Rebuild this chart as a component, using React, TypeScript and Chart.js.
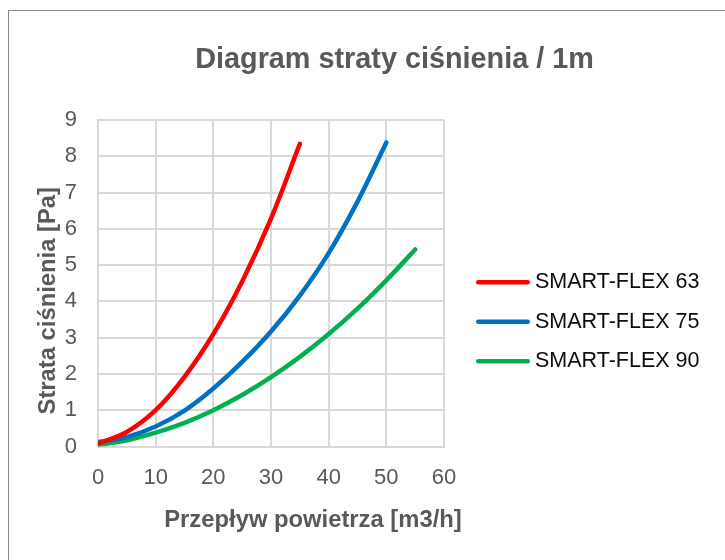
import React, { useEffect, useRef } from "react";
import { Chart, registerables } from "chart.js";

Chart.register(...registerables);

// ---- data ----
const CHART_TITLE = "Diagram straty ciśnienia / 1m";
const X_TITLE = "Przepływ powietrza [m3/h]";
const Y_TITLE = "Strata ciśnienia [Pa]";

const seriesNames = ["SMART-FLEX 63", "SMART-FLEX 75", "SMART-FLEX 90"];
const seriesColors = ["#FF0000", "#0070C0", "#00B050"];

const flow63 = [0, 5, 10, 15, 20, 25, 30, 35];
const loss63 = [0.08, 0.4, 1.0, 1.92, 3.1, 4.55, 6.28, 8.34];

const flow75 = [0, 5, 10, 15, 20, 25, 30, 35, 40, 45, 50];
const loss75 = [0.12, 0.26, 0.55, 0.99, 1.6, 2.33, 3.17, 4.16, 5.33, 6.75, 8.38];

const flow90 = [0, 5, 10, 15, 20, 25, 30, 35, 40, 45, 50, 55];
const loss90 = [0.04, 0.17, 0.38, 0.65, 1.0, 1.42, 1.91, 2.47, 3.1, 3.8, 4.58, 5.43];

const xTickMin = 0;
const xTickMax = 60;
const xTickStep = 10;
const yTickMin = 0;
const yTickMax = 9;
const yTickStep = 1;

const FAMILY = '"Liberation Sans", Arial, sans-serif';
const GREY = "#595959";
const GRID = "#d9d9d9";

const CANVAS_W = 773;
const CANVAS_H = 550;

const toPoints = (xs: number[], ys: number[]) => xs.map((x, i) => ({ x, y: ys[i] }));

const extrasPlugin = {
  id: "excelExtras",
  afterDraw(chart: any) {
    const { ctx, chartArea: a } = chart;
    ctx.save();
    // axis titles
    ctx.fillStyle = GREY;
    ctx.font = `bold 23.8px ${FAMILY}`;
    ctx.textAlign = "center";
    ctx.textBaseline = "alphabetic";
    ctx.fillText(X_TITLE, (a.left + a.right) / 2 + 42, a.bottom + 80.5);
    ctx.save();
    ctx.translate(a.left - 43, (a.top + a.bottom) / 2 + 17.5);
    ctx.rotate(-Math.PI / 2);
    ctx.fillText(Y_TITLE, 0, 0);
    ctx.restore();

    // legend
    const midY = (a.top + a.bottom) / 2 + 38.5;
    const gap = 39.5;
    const ds = chart.data.datasets;
    ds.forEach((d: any, i: number) => {
      const y = midY + (i - (ds.length - 1) / 2) * gap;
      ctx.strokeStyle = d.borderColor;
      ctx.lineWidth = 4.5;
      ctx.lineCap = "round";
      ctx.beginPath();
      ctx.moveTo(a.right + 34.25, y);
      ctx.lineTo(a.right + 83.75, y);
      ctx.stroke();
      ctx.fillStyle = "#0d0d0d";
      ctx.font = `21.5px ${FAMILY}`;
      ctx.textAlign = "left";
      ctx.textBaseline = "middle";
      ctx.fillText(d.label, a.right + 91, y);
    });
    ctx.restore();
  },
};

export default function App() {
  const ref = useRef<HTMLCanvasElement | null>(null);

  useEffect(() => {
    if (!ref.current) return;
    const lists = [
      toPoints(flow63, loss63),
      toPoints(flow75, loss75),
      toPoints(flow90, loss90),
    ];
    const chart = new Chart(ref.current, {
      type: "line",
      data: {
        datasets: lists.map((pts, i) => ({
          label: seriesNames[i],
          data: pts,
          borderColor: seriesColors[i],
          backgroundColor: seriesColors[i],
          borderWidth: 4.5,
          borderCapStyle: "round",
          borderJoinStyle: "round",
          pointRadius: 0,
          cubicInterpolationMode: "monotone",
          fill: false,
          xAxisID: "x",
          yAxisID: "y",
        })),
      },
      options: {
        responsive: false,
        animation: false,
        devicePixelRatio: 1,
        layout: { padding: 0 },
        plugins: {
          legend: { display: false },
          tooltip: { enabled: false },
          title: {
            display: true,
            text: CHART_TITLE,
            color: GREY,
            font: { family: FAMILY, size: 28.8, weight: "bold" },
            padding: { top: 33.2, bottom: 42.2 },
          },
        },
        scales: {
          x: {
            type: "linear",
            min: xTickMin,
            max: xTickMax,
            ticks: {
              stepSize: xTickStep,
              color: GREY,
              font: { family: FAMILY, size: 22 },
              padding: 18,
            },
            grid: { color: GRID, lineWidth: 2, drawTicks: false },
            border: { color: GRID, width: 2 },
            afterFit: (s: any) => {
              s.height = CANVAS_H - 436.5;
            },
          },
          y: {
            type: "linear",
            position: "left",
            min: yTickMin,
            max: yTickMax,
            ticks: {
              stepSize: yTickStep,
              color: GREY,
              font: { family: FAMILY, size: 22 },
              padding: 21,
            },
            grid: { color: GRID, lineWidth: 2, drawTicks: false },
            border: { color: GRID, width: 2 },
            afterFit: (s: any) => {
              s.width = 90;
            },
          },
          legendSpace: {
            type: "linear",
            position: "right",
            display: true,
            ticks: { display: false },
            grid: { display: false, drawTicks: false },
            border: { display: false },
            title: { display: false },
            afterFit: (s: any) => {
              s.width = CANVAS_W - 436;
            },
          },
        },
      },
      plugins: [extrasPlugin],
    } as any);
    return () => chart.destroy();
  }, []);

  return (
    <div
      style={{
        position: "fixed",
        left: 0,
        top: 0,
        width: 725,
        height: 560,
        overflow: "hidden",
        background: "#ffffff",
      }}
    >
      <div
        style={{
          position: "absolute",
          left: 8,
          top: 10,
          width: 800,
          height: 700,
          border: "1px solid #8a8a8a",
          boxSizing: "border-box",
        }}
      />
      <canvas
        ref={ref}
        width={CANVAS_W}
        height={CANVAS_H}
        style={{ position: "absolute", left: 8, top: 10, width: CANVAS_W, height: CANVAS_H }}
      />
    </div>
  );
}
